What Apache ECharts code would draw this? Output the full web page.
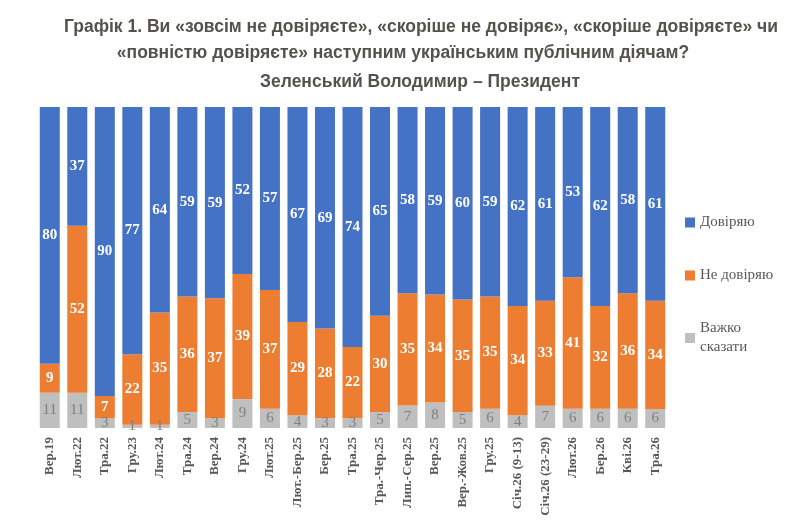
<!DOCTYPE html>
<html>
<head>
<meta charset="utf-8">
<script src="https://cdn.jsdelivr.net/npm/echarts@6/dist/echarts.min.js"></script>
<style>
  html, body { margin: 0; padding: 0; background: #fff; }
  #chart { width: 798px; height: 529px; }
</style>
</head>
<body>
<div id="chart"></div>
<script>
const periods = ['Вер.19', 'Лют.22', 'Тра.22', 'Гру.23', 'Лют.24', 'Тра.24', 'Вер.24', 'Гру.24',
  'Лют.25', 'Лют.-Бер.25', 'Бер.25', 'Тра.25', 'Тра.-Чер.25', 'Лип.-Сер.25', 'Вер.25',
  'Вер.-Жов.25', 'Гру.25', 'Січ.26 (9-13)', 'Січ.26 (23-29)', 'Лют.26', 'Бер.26', 'Кві.26', 'Тра.26'];
const trust    = [80, 37, 90, 77, 64, 59, 59, 52, 57, 67, 69, 74, 65, 58, 59, 60, 59, 62, 61, 53, 62, 58, 61];
const distrust = [9, 52, 7, 22, 35, 36, 37, 39, 37, 29, 28, 22, 30, 35, 34, 35, 35, 34, 33, 41, 32, 36, 34];
const hardToSay = [11, 11, 3, 1, 1, 5, 3, 9, 6, 4, 3, 3, 5, 7, 8, 5, 6, 4, 7, 6, 6, 6, 6];

// bars are drawn as 100% stacks, labels keep the survey numbers
const totals = periods.map((p, i) => trust[i] + distrust[i] + hardToSay[i]);
function share(arr) {
  return arr.map((v, i) => v * 100 / totals[i]);
}

const chart = echarts.init(document.getElementById('chart'));
const serif = 'Liberation Serif';
const titleFont = { fontFamily: 'Liberation Sans', fontSize: 17.5, fontWeight: 'bold', color: '#55524c', lineHeight: 24 };

function makeSeries(name, raw, color, labelColor, bold) {
  return {
    name: name,
    type: 'bar',
    stack: 'all',
    barWidth: 20,
    data: share(raw),
    itemStyle: { color: color },
    label: {
      show: true,
      position: 'inside',
      fontFamily: serif,
      fontSize: 15,
      fontWeight: bold ? 'bold' : 'normal',
      color: labelColor,
      formatter: p => raw[p.dataIndex]
    }
  };
}

const option = {
  animation: false,
  title: [
    {
      text: 'Графік 1. Ви «зовсім не довіряєте», «скоріше не довіряє», «скоріше довіряєте» чи',
      left: 416, top: 10, textAlign: 'center', textStyle: titleFont
    },
    {
      text: '«повністю довіряєте» наступним українським публічним діячам?',
      left: 398, top: 36, textAlign: 'center', textStyle: titleFont
    },
    {
      text: 'Зеленський Володимир – Президент',
      left: 415, top: 65, textAlign: 'center', textStyle: titleFont
    }
  ],
  legend: {
    orient: 'vertical',
    left: 680, top: 208,
    itemWidth: 10, itemHeight: 10,
    itemGap: 34,
    icon: 'rect',
    data: ['Довіряю', 'Не довіряю', 'Важко\nсказати'],
    textStyle: { fontFamily: serif, fontSize: 15, color: '#595959', lineHeight: 19 }
  },
  grid: { left: 36, right: 129, top: 107, bottom: 101 },
  xAxis: {
    type: 'category',
    data: periods,
    axisLine: { show: false },
    axisTick: { show: false },
    axisLabel: {
      rotate: 90, interval: 0, margin: 9,
      fontFamily: serif, fontSize: 13, fontWeight: 'bold', color: '#595959'
    }
  },
  yAxis: {
    type: 'value', min: 0, max: 100,
    show: false
  },
  series: [
    makeSeries('Важко\nсказати', hardToSay, '#BFBFBF', '#7F7F7F', false),
    makeSeries('Не довіряю', distrust, '#ED7D31', '#FFFFFF', true),
    makeSeries('Довіряю', trust, '#4472C4', '#FFFFFF', true)
  ]
};
chart.setOption(option);
</script>
</body>
</html>
